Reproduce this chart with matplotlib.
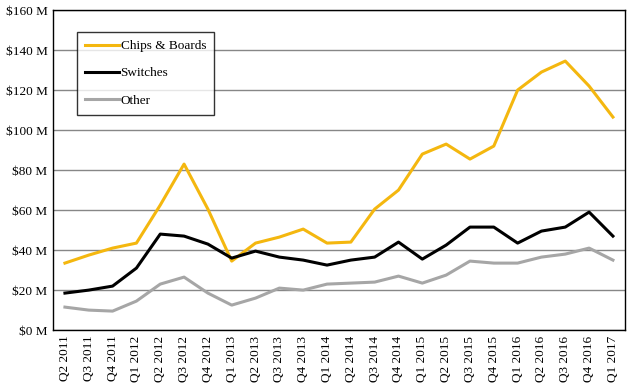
import matplotlib.pyplot as plt
import numpy as np

quarters = ["Q2 2011", "Q3 2011", "Q4 2011", "Q1 2012", "Q2 2012", "Q3 2012",
            "Q4 2012", "Q1 2013", "Q2 2013", "Q3 2013", "Q4 2013", "Q1 2014",
            "Q2 2014", "Q3 2014", "Q4 2014", "Q1 2015", "Q2 2015", "Q3 2015",
            "Q4 2015", "Q1 2016", "Q2 2016", "Q3 2016", "Q4 2016", "Q1 2017"]

chips = [33.5, 37.5, 41, 43.5, 62.5, 83, 60.5, 34.5, 43.5, 46.5, 50.5, 43.5,
         44, 60.5, 70, 88, 93, 85.5, 92, 120, 129, 134.5, 122, 106.5]
switches = [18.5, 20, 22, 31, 48, 47, 43, 36, 39.5, 36.5, 35, 32.5,
            35, 36.5, 44, 35.5, 42.5, 51.5, 51.5, 43.5, 49.5, 51.5, 59, 47]
other = [11.5, 10, 9.5, 14.5, 23, 26.5, 18.5, 12.5, 16, 21, 20, 23,
         23.5, 24, 27, 23.5, 27.5, 34.5, 33.5, 33.5, 36.5, 38, 41, 35]

plt.rcParams['font.family'] = ['Liberation Serif', 'DejaVu Serif']

fig = plt.figure(figsize=(6.35, 3.87), dpi=100)
ax = fig.add_axes([0.0835, 0.147, 0.9005, 0.827])

x = np.arange(len(quarters))
ax.plot(x, chips, color='#F4B70F', lw=2.2, label='Chips & Boards')
ax.plot(x, switches, color='black', lw=2.2, label='Switches')
ax.plot(x, other, color='#A6A6A6', lw=2.2, label='Other')

ax.set_xlim(-0.5, len(quarters) - 0.5)
ax.set_ylim(0, 160)
ax.set_yticks(range(0, 161, 20))
ax.set_yticklabels([f"${v} M" for v in range(0, 161, 20)], fontsize=9.5)
ax.set_xticks(x)
ax.set_xticklabels(quarters, rotation=90, fontsize=9.5)
ax.tick_params(length=0, pad=4)
ax.grid(axis='y', color='#878787', lw=1)
ax.set_axisbelow(True)
for s in ax.spines.values():
    s.set_color('black')
    s.set_linewidth(1)

leg = ax.legend(loc='upper left', bbox_to_anchor=(0.042, 0.931), borderaxespad=0,
                fontsize=9.5, frameon=True, fancybox=False, edgecolor='black',
                handlelength=2.6, labelspacing=1.13, borderpad=0.6,
                handletextpad=0.1)
leg.get_frame().set_linewidth(1)

plt.savefig('out.png')
